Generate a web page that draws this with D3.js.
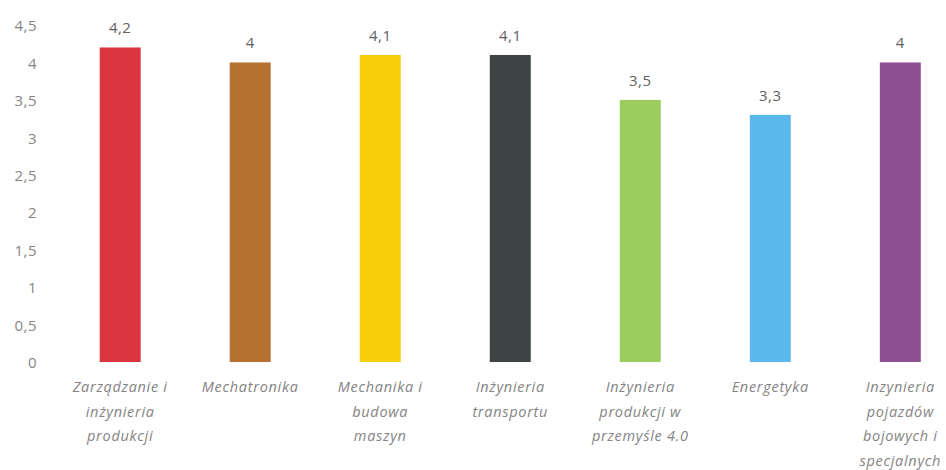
<!DOCTYPE html>
<html>
<head>
<meta charset="utf-8">
<script src="https://d3js.org/d3.v7.min.js"></script>
<style>
  body { margin: 0; background: #fff; }
  text { font-family: "Open Sans", Lato, sans-serif; }
</style>
</head>
<body>
<div id="chart"></div>
<script>
// data
const categories = [
  "Zarządzanie i inżynieria produkcji",
  "Mechatronika",
  "Mechanika i budowa maszyn",
  "Inżynieria transportu",
  "Inżynieria produkcji w przemyśle 4.0",
  "Energetyka",
  "Inzynieria pojazdów bojowych i specjalnych"
];
const labelLines = [
  ["Zarządzanie i", "inżynieria", "produkcji"],
  ["Mechatronika"],
  ["Mechanika i", "budowa", "maszyn"],
  ["Inżynieria", "transportu"],
  ["Inżynieria", "produkcji w", "przemyśle 4.0"],
  ["Energetyka"],
  ["Inzynieria", "pojazdów", "bojowych i", "specjalnych"]
];
const values = [4.2, 4, 4.1, 4.1, 3.5, 3.3, 4];
const colors = ["#dc3340", "#b5712f", "#f7cd0c", "#3e4444", "#9ccc5e", "#5ab8ec", "#8e4f93"];
const yTicks = [0, 0.5, 1, 1.5, 2, 2.5, 3, 3.5, 4, 4.5];

let width = 946, height = 470;

const fmt = v => String(v).replace(".", ",");

var svg = d3.select("#chart").append("svg")
  .attr("width", width)
  .attr("height", height);

const x = d3.scaleBand()
  .domain(categories)
  .range([55.5, 965])
  .paddingInner(0.685)
  .paddingOuter(0.34);

const y = d3.scaleLinear()
  .domain([0, 4.5])
  .range([362, 25]);

// y axis (labels only)
const yAxis = svg.append("g")
  .attr("transform", "translate(37,0)")
  .call(d3.axisLeft(y).tickValues(yTicks).tickFormat(fmt).tickSize(0).tickPadding(0));
yAxis.select(".domain").remove();
yAxis.selectAll("text")
  .attr("fill", "#858585")
  .attr("dy", "0.38em")
  .style("font-size", "15px")
  .style("letter-spacing", "0.5px")
  .style("font-family", "'Open Sans', sans-serif");

// bars
svg.selectAll("rect.bar")
  .data(values)
  .enter()
  .append("rect")
  .attr("class", "bar")
  .attr("x", (d, i) => x(categories[i]))
  .attr("width", x.bandwidth())
  .attr("y", d => y(d))
  .attr("height", d => y(0) - y(d))
  .attr("fill", (d, i) => colors[i]);

// value labels
svg.selectAll("text.val")
  .data(values)
  .enter()
  .append("text")
  .attr("class", "val")
  .attr("x", (d, i) => x(categories[i]) + x.bandwidth() / 2)
  .attr("y", d => y(d) - 14)
  .attr("text-anchor", "middle")
  .attr("fill", "#606060")
  .style("font-size", "15px")
  .style("letter-spacing", "0.5px")
  .text(fmt);

// category labels
const xl = svg.selectAll("text.cat")
  .data(labelLines)
  .enter()
  .append("text")
  .attr("class", "cat")
  .attr("text-anchor", "middle")
  .attr("fill", "#848484")
  .style("font-size", "14.5px")
  .style("font-style", "italic")
  .style("letter-spacing", "0.7px")
  .attr("transform", (d, i) => "translate(" + (x(categories[i]) + x.bandwidth() / 2) + ",0)");

xl.selectAll("tspan")
  .data(d => d)
  .enter()
  .append("tspan")
  .attr("x", 0)
  .attr("y", (d, j) => 392 + j * 24.5)
  .text(d => d);
</script>
</body>
</html>
